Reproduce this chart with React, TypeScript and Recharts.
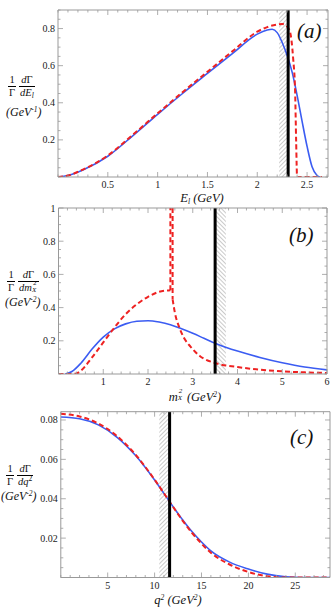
import React from "react";
import { LineChart, Line, XAxis, YAxis, ReferenceArea, ReferenceLine } from "recharts";

// (a) lepton energy spectrum, E_l in GeV
const elBlue = [0, 0.1, 0.25, 0.5, 0.75, 1, 1.25, 1.5, 1.75, 2, 2.1, 2.15, 2.2, 2.25, 2.3, 2.35, 2.4, 2.45, 2.5, 2.55, 2.6, 2.63];
const dElBlue = [0, 0.008, 0.038, 0.112, 0.222, 0.338, 0.45, 0.558, 0.665, 0.77, 0.792, 0.796, 0.778, 0.725, 0.655, 0.565, 0.44, 0.3, 0.165, 0.055, 0.008, 0];
const elRed = [0, 0.1, 0.25, 0.5, 0.75, 1, 1.25, 1.5, 1.75, 2, 2.1, 2.2, 2.25, 2.3, 2.33, 2.36, 2.38, 2.39, 2.4, 2.5, 2.65];
const dElRed = [0, 0.008, 0.04, 0.116, 0.227, 0.343, 0.457, 0.567, 0.677, 0.783, 0.808, 0.822, 0.825, 0.81, 0.78, 0.64, 0.46, 0.2, 0, 0, 0];

// (b) hadronic invariant mass spectrum, m_X^2 in GeV^2
const mxBlue = [0.15, 0.3, 0.5, 0.75, 1, 1.25, 1.5, 1.75, 2, 2.25, 2.5, 2.75, 3, 3.25, 3.5, 3.75, 4, 4.5, 5, 5.5, 6];
const dMxBlue = [0, 0.015, 0.065, 0.15, 0.222, 0.272, 0.302, 0.318, 0.321, 0.313, 0.297, 0.272, 0.245, 0.215, 0.185, 0.16, 0.138, 0.1, 0.068, 0.042, 0.025];
const mxRedLow = [0, 0.3, 0.4, 0.5, 0.75, 1, 1.25, 1.5, 1.75, 2, 2.25, 2.5];
const dMxRedLow = [0, 0, 0.003, 0.02, 0.1, 0.19, 0.28, 0.36, 0.42, 0.465, 0.495, 0.505];
const mxRedPeak = [2.5, 2.5, 2.55, 2.55];
const dMxRedPeak = [0.505, 1.3, 1.3, 0.45];
const mxRedHigh = [2.55, 2.6, 2.7, 2.8, 2.95, 3.15, 3.5, 4, 4.5, 5, 5.5, 6];
const dMxRedHigh = [0.45, 0.37, 0.28, 0.22, 0.165, 0.11, 0.066, 0.042, 0.026, 0.016, 0.01, 0.006];

// (c) q^2 spectrum, GeV^2
const q2Blue = [0, 2, 4, 6, 8, 10, 11.6, 13, 14, 15, 16, 18, 20, 22, 24, 25, 26, 28.7];
const dq2Blue = [0.0815, 0.0806, 0.0775, 0.0712, 0.0618, 0.0495, 0.0385, 0.0292, 0.0232, 0.018, 0.0135, 0.0078, 0.0043, 0.0017, 0.0004, 0.0001, 0, 0];
const q2Red = [0, 2, 4, 6, 8, 10, 11.6, 13, 14, 15, 16, 18, 20, 22, 23, 24, 28.7];
const dq2Red = [0.0832, 0.0818, 0.0782, 0.0718, 0.0622, 0.0497, 0.0385, 0.0288, 0.0226, 0.0172, 0.0126, 0.0066, 0.0028, 0.0006, 0.0001, 0, 0];

// cuts and shaded bands
const cuts = [2.31, 3.5, 11.6];
const bands = [[2.22, 2.31], [3.5, 3.74], [10.5, 11.6]];

const BLUE = "#3b5cf2";
const RED = "#ee2222";
const FRAME = "#999";
const SERIF = "'Liberation Serif', 'DejaVu Serif', serif";

const zip = (xs: number[], ys: number[]) => xs.map((x, i) => ({ x, y: ys[i] }));
const steps = (from: number, to: number, step: number) => {
  const out: number[] = [];
  for (let v = from; v <= to + 1e-9; v += step) out.push(Math.round(v * 10000) / 10000);
  return out;
};

type Side = "bottom" | "top" | "left" | "right";

const mkTick = (side: Side, majors: number[], label: boolean) => (p: any) => {
  const v = p.payload.value;
  const major = majors.some((m) => Math.abs(m - v) < 1e-6);
  const L = major ? 5 : 2.5;
  let x2 = p.x, y2 = p.y;
  if (side === "bottom") y2 = p.y - L;
  if (side === "top") y2 = p.y + L;
  if (side === "left") x2 = p.x + L;
  if (side === "right") x2 = p.x - L;
  return (
    <g>
      <line x1={p.x} y1={p.y} x2={x2} y2={y2} stroke={FRAME} strokeWidth={0.8} />
      {label && major && side === "bottom" && (
        <text x={p.x} y={p.y + 11} textAnchor="middle" fontSize={10} fontFamily={SERIF} fill="#222">{String(v)}</text>
      )}
      {label && major && side === "left" && (
        <text x={p.x - 3} y={p.y + 3.5} textAnchor="end" fontSize={10} fontFamily={SERIF} fill="#222">{String(v)}</text>
      )}
    </g>
  );
};

interface Series { data: { x: number; y: number }[]; color: string; dashed?: boolean; type?: "monotone" | "linear" }

interface PanelProps {
  id: string;
  top: number;
  height: number;
  // plot box edges inside the panel
  box: { top: number; right: number; bottom: number; left: number };
  xDomain: [number, number];
  yDomain: [number, number];
  xMajor: number[];
  xMinor: number[];
  yMajor: number[];
  yMinor: number[];
  band: number[];
  hatchAngle: number;
  cut: number;
  series: Series[];
}

function Panel(p: PanelProps) {
  // each axis is 1px thick, so the margins give up 1px per side
  const margin = { top: p.box.top - 1, right: p.box.right - 1, bottom: p.box.bottom - 1, left: p.box.left - 1 };
  return (
    <div style={{ position: "absolute", left: 0, top: p.top }}>
      <LineChart width={334} height={p.height} margin={margin}>
        <defs>
          <pattern id={p.id} patternUnits="userSpaceOnUse" width={3} height={3} patternTransform={`rotate(${p.hatchAngle})`}>
            <line x1={0} y1={0} x2={0} y2={3} stroke="#666" strokeWidth={0.7} />
          </pattern>
        </defs>
        <XAxis dataKey="x" type="number" domain={p.xDomain} allowDataOverflow ticks={p.xMinor} interval={0}
          height={1} tickSize={0} tickMargin={0} tickLine={false} stroke={FRAME} tick={mkTick("bottom", p.xMajor, true)} />
        <XAxis xAxisId="top" orientation="top" dataKey="x" type="number" domain={p.xDomain} allowDataOverflow ticks={p.xMinor} interval={0}
          height={1} tickSize={0} tickMargin={0} tickLine={false} stroke={FRAME} tick={mkTick("top", p.xMajor, false)} />
        <YAxis type="number" domain={p.yDomain} allowDataOverflow ticks={p.yMinor} interval={0}
          width={1} tickSize={0} tickMargin={0} tickLine={false} stroke={FRAME} tick={mkTick("left", p.yMajor, true)} />
        <YAxis yAxisId="right" orientation="right" type="number" domain={p.yDomain} allowDataOverflow ticks={p.yMinor} interval={0}
          width={1} tickSize={0} tickMargin={0} tickLine={false} stroke={FRAME} tick={mkTick("right", p.yMajor, false)} />
        <ReferenceArea x1={p.band[0]} x2={p.band[1]} fill={`url(#${p.id})`} fillOpacity={1} stroke="none" ifOverflow="hidden" />
        {p.series.map((s, i) => (
          <Line key={i} data={s.data} dataKey="y" type={s.type || "monotone"} stroke={s.color} strokeWidth={s.dashed ? 2 : 1.6}
            strokeDasharray={s.dashed ? "5 3" : undefined} dot={false} activeDot={false} isAnimationActive={false} />
        ))}
        <ReferenceLine x={p.cut} stroke="#000" strokeWidth={3} ifOverflow="hidden" />
      </LineChart>
    </div>
  );
}

// fraction: 12px numerator, bar, 12px denominator
const Frac = ({ n, d }: { n: React.ReactNode; d: React.ReactNode }) => (
  <span style={{ display: "inline-flex", flexDirection: "column", alignItems: "center", verticalAlign: "top", lineHeight: "12px" }}>
    <span style={{ padding: "0 1px", height: 12 }}>{n}</span>
    <span style={{ borderTop: "1px solid #000", padding: "0 1px", height: 12 }}>{d}</span>
  </span>
);

const abs = (left: number, top: number, extra: React.CSSProperties = {}): React.CSSProperties => ({
  position: "absolute", left, top, fontFamily: SERIF, color: "#111", whiteSpace: "nowrap", lineHeight: "14px", ...extra,
});

const sub = { fontSize: 7.5, position: "relative" as const, top: 2 };
const sup = { fontSize: 7.5, position: "relative" as const, top: -4 };

// m^2 with X below it, as in m_X^2
const stackMX = (
  <span style={{ display: "inline-block", position: "relative", width: 6, height: 10, verticalAlign: "top" }}>
    <span style={{ position: "absolute", left: 1, top: -2, fontSize: 7, lineHeight: "7px" }}>2</span>
    <i style={{ position: "absolute", left: 0, top: 5, fontSize: 7, lineHeight: "7px" }}>X</i>
  </span>
);

export default function App() {
  return (
    <div style={{ position: "absolute", left: 0, top: 0, width: 334, height: 609, background: "#fff", overflow: "hidden" }}>
      <Panel id="hatchA" top={0} height={200} box={{ top: 10, right: 6, bottom: 23, left: 58 }}
        xDomain={[0, 2.71]} yDomain={[0, 0.9]}
        xMajor={[0.5, 1, 1.5, 2, 2.5]} xMinor={steps(0, 2.7, 0.1)}
        yMajor={[0.2, 0.4, 0.6, 0.8]} yMinor={steps(0, 0.9, 0.05)}
        band={bands[0]} hatchAngle={45} cut={cuts[0]}
        series={[
          { data: zip(elBlue, dElBlue), color: BLUE },
          { data: zip(elRed, dElRed), color: RED, dashed: true },
        ]} />
      <Panel id="hatchB" top={200} height={200} box={{ top: 8, right: 7, bottom: 26, left: 58.5 }}
        xDomain={[0, 6]} yDomain={[0, 1]}
        xMajor={[1, 2, 3, 4, 5, 6]} xMinor={steps(0, 6, 0.2)}
        yMajor={[0.2, 0.4, 0.6, 0.8, 1]} yMinor={steps(0, 1, 0.05)}
        band={bands[1]} hatchAngle={-45} cut={cuts[1]}
        series={[
          { data: zip(mxBlue, dMxBlue), color: BLUE },
          { data: zip(mxRedLow, dMxRedLow), color: RED, dashed: true },
          { data: zip(mxRedPeak, dMxRedPeak), color: RED, dashed: true, type: "linear" },
          { data: zip(mxRedHigh, dMxRedHigh), color: RED, dashed: true },
        ]} />
      <Panel id="hatchC" top={400} height={209} box={{ top: 11.7, right: 4, bottom: 31.5, left: 60.8 }}
        xDomain={[0, 28.7]} yDomain={[0, 0.0842]}
        xMajor={[5, 10, 15, 20, 25]} xMinor={steps(0, 28, 1)}
        yMajor={[0.02, 0.04, 0.06, 0.08]} yMinor={steps(0, 0.084, 0.005)}
        band={bands[2]} hatchAngle={45} cut={cuts[2]}
        series={[
          { data: zip(q2Blue, dq2Blue), color: BLUE },
          { data: zip(q2Red, dq2Red), color: RED, dashed: true },
        ]} />

      {/* panel tags */}
      <div style={abs(297, 19, { fontSize: 21, lineHeight: "24px", fontStyle: "italic" })}>(a)</div>
      <div style={abs(289, 223, { fontSize: 21, lineHeight: "24px", fontStyle: "italic" })}>(b)</div>
      <div style={abs(290, 425, { fontSize: 21, lineHeight: "24px", fontStyle: "italic" })}>(c)</div>

      {/* y axis titles */}
      <div style={abs(8, 74, { fontSize: 10.5, lineHeight: "12px" })}>
        <Frac n="1" d="Γ" />
        <span style={{ display: "inline-block", width: 3 }} />
        <Frac n={<span><i>d</i>Γ</span>} d={<span><i>dE</i><i style={sub}>l</i></span>} />
      </div>
      <div style={abs(6, 105, { fontSize: 12, fontStyle: "italic" })}>(GeV<span style={sup}>-1</span>)</div>

      <div style={abs(7, 269, { fontSize: 10.5, lineHeight: "12px" })}>
        <Frac n="1" d="Γ" />
        <span style={{ display: "inline-block", width: 3 }} />
        <Frac n={<span><i>d</i>Γ</span>} d={<span><i>dm</i>{stackMX}</span>} />
      </div>
      <div style={abs(5, 295, { fontSize: 12, fontStyle: "italic" })}>(GeV<span style={sup}>-2</span>)</div>

      <div style={abs(6, 463, { fontSize: 10.5, lineHeight: "12px" })}>
        <Frac n="1" d="Γ" />
        <span style={{ display: "inline-block", width: 3 }} />
        <Frac n={<span><i>d</i>Γ</span>} d={<span><i>dq</i><span style={sup}>2</span></span>} />
      </div>
      <div style={abs(1, 489, { fontSize: 12, fontStyle: "italic" })}>(GeV<span style={sup}>-2</span>)</div>

      {/* x axis titles */}
      <div style={abs(152, 191, { width: 100, textAlign: "center", fontSize: 12.5, fontStyle: "italic" })}>
        E<span style={sub}>l</span> (GeV)
      </div>
      <div style={abs(145, 390, { width: 100, textAlign: "center", fontSize: 12.5, fontStyle: "italic" })}>
        m{stackMX} (GeV<span style={sup}>2</span>)
      </div>
      <div style={abs(128, 593, { width: 100, textAlign: "center", fontSize: 12.5, fontStyle: "italic" })}>
        q<span style={sup}>2</span> (GeV<span style={sup}>2</span>)
      </div>
    </div>
  );
}
